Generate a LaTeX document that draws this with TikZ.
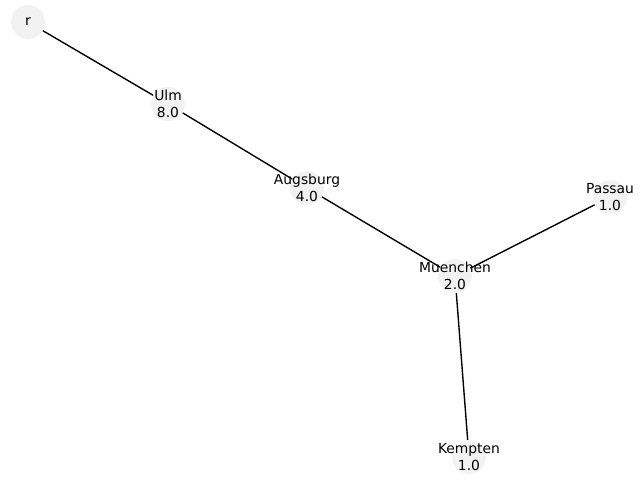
\documentclass[tikz,border=0pt]{standalone}
\usepackage{fontspec}
\setmainfont{DejaVu Sans}
\begin{document}
\begin{tikzpicture}[x=0.01in,y=-0.01in,
  vert/.style={circle,fill=black!5,draw=none,minimum size=24.5pt,inner sep=0pt},
  lbl/.style={align=center,inner sep=0pt,font=\fontsize{10}{12}\selectfont,text=black},
  edge/.style={draw=black,line width=1pt}]
\useasboundingbox (0,0) rectangle (640,480);
\node[vert] (r) at (28,22) {};
\node[vert] (ulm) at (168,104) {};
\node[vert] (aug) at (307,188) {};
\node[vert] (mue) at (455,276) {};
\node[vert] (pas) at (610,197) {};
\node[vert] (kem) at (469,457) {};
\draw[edge] (r) -- (ulm);
\draw[edge] (ulm) -- (aug);
\draw[edge] (aug) -- (mue);
\draw[edge] (mue) -- (pas);
\draw[edge] (mue) -- (kem);
\node[lbl] (tr) at (r) {r};
\node[lbl] (tulm) at (ulm) {Ulm\\8.0};
\node[lbl] (taug) at (aug) {Augsburg\\4.0};
\node[lbl] (tmue) at (mue) {Muenchen\\2.0};
\node[lbl] (tpas) at (pas) {Passau\\1.0};
\node[lbl] (tkem) at (kem) {Kempten\\1.0};
\end{tikzpicture}
\end{document}
